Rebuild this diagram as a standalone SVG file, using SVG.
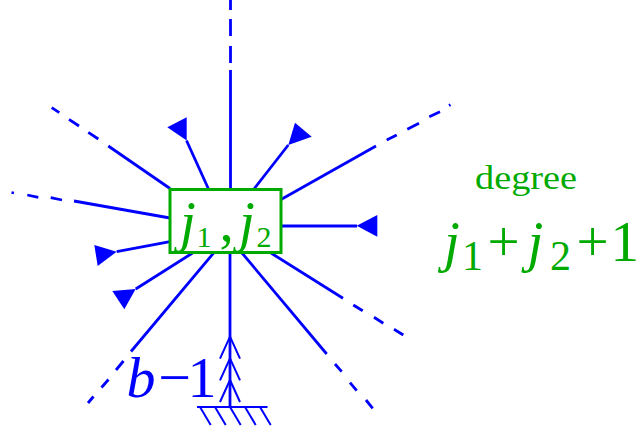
<svg xmlns="http://www.w3.org/2000/svg" width="636" height="436" viewBox="0 0 636 436">
<style>
.ln{stroke:#0000ff;stroke-width:2.8;fill:none;stroke-linecap:butt}
.thin{stroke:#0000ff;stroke-width:2;fill:none}
.tri{fill:#0000ff;stroke:none}
.box{fill:#ffffff;stroke:#00aa00;stroke-width:3}
.g{fill:#00aa00}
.b{fill:#0000ff}
text{font-family:'Liberation Serif','Times New Roman',Times,serif}
.it{font-style:italic}
</style>
<g id="connectors">
  <path class="ln" d="M230.5,0 V10 M230.5,19 V36 M230.5,46 V63 M230.5,70 V189"/>
  <path class="ln" d="M51.7,107.7 L59.3,112.7 M69,119.3 L79,126 M88.3,132.3 L98.3,139 M108.3,146 L170,188.5"/>
  <path class="ln" d="M11.5,192.5 L14,193 M27.3,195 L38.3,197.3 M50.7,197.7 L62,200 M74,201 L170,218"/>
  <path class="ln" d="M208.5,189 L186.5,140.5"/>
  <polygon class="tri" points="167.3,127.3 186.7,117.3 186.7,140.5"/>
  <path class="ln" d="M254,189 L288.3,145"/>
  <polygon class="tri" points="288.3,145 295,122.7 311.7,136.7"/>
  <path class="ln" d="M281,199.5 L376,146 M386.7,140 L396.7,135 M407.3,129.3 L419,123.3 M429.3,116.7 L440,111.7 M449,105.5 L450.5,104.7"/>
  <path class="ln" d="M281,226 H357"/>
  <polygon class="tri" points="356.7,225.7 377.3,215 377.3,236.7"/>
  <path class="ln" d="M271,253 L343,298.3 M353.3,305 L362.7,310.7 M374,317.3 L383.3,323.3 M394,329.3 L403.3,335"/>
  <path class="ln" d="M242,253 L326.7,354 M335,364 L341.7,371.7 M350,382.7 L356.7,390.7 M366,400 L372.7,408.3"/>
  <path class="ln" d="M170,241.7 L116.7,251.7"/>
  <polygon class="tri" points="94.3,245 116.7,251.7 97.7,266"/>
  <path class="ln" d="M192.5,253 L135.7,289"/>
  <polygon class="tri" points="112.3,291 135.7,289 124.3,309.3"/>
  <path class="ln" d="M213.6,253 L131,351.5 M123.5,361 L116,370 M108.5,379.5 L101.5,387.5 M93.5,396.5 L88,403"/>
  <path class="ln" d="M230,253 V407"/>
  <path class="thin" d="M220,358.7 L230,336.7 L240,358.7 M220,380.3 L230,358.3 L240,380.3 M220,402 L230,380 L240,402"/>
  <path class="thin" d="M197,407 H267.5 M200,407 L210.7,425 M215,407 L225.7,425 M230,407 L240.7,425 M245,407 L255.7,425 M260,407 L270.7,425"/>
</g>
<g id="node-j1j2">
  <rect class="box" x="170" y="189.5" width="111" height="63"/>
  <text class="g" font-size="57"><tspan class="it" x="180" y="240.7">j</tspan><tspan x="196.5" y="247.3" font-size="30">1</tspan><tspan x="219.6" y="240.7">,</tspan><tspan class="it" x="239" y="240.7">j</tspan><tspan x="256.5" y="247.3" font-size="30">2</tspan></text>
</g>
<g id="label-b-1">
  <text class="b" font-size="58"><tspan class="it" x="126.4" y="397.3">b</tspan><tspan x="158.3" y="397.3">−</tspan><tspan x="187.6" y="397.3">1</tspan></text>
</g>
<g id="label-degree">
  <text class="g" font-size="33" x="475" y="189" textLength="102" lengthAdjust="spacingAndGlyphs">degree</text>
  <text class="g" font-size="57"><tspan class="it" x="444" y="260.5">j</tspan><tspan x="462" y="270" font-size="42">1</tspan><tspan x="487.6" y="260.5">+</tspan><tspan class="it" x="527.5" y="260.5">j</tspan><tspan x="550" y="270" font-size="42">2</tspan><tspan x="576.6" y="260.5">+</tspan><tspan x="610.5" y="260.5">1</tspan></text>
</g>
</svg>
